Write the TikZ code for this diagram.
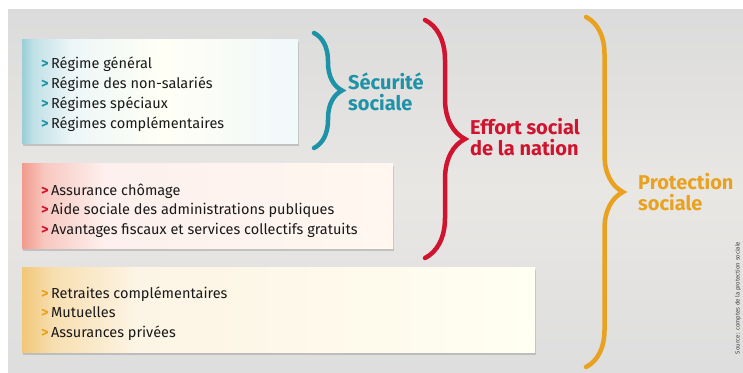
\documentclass[tikz,border=0pt]{standalone}
\usepackage{fontspec}
\setmainfont{Fira Sans}
\newfontfamily\listfont{Fira Sans}
\usetikzlibrary{positioning,decorations.pathreplacing,shadows}

\definecolor{secu}{HTML}{1E93A8}
\definecolor{effort}{HTML}{D0132E}
\definecolor{protec}{HTML}{E9A21F}
\definecolor{panelgray}{HTML}{E9E7E4}
\definecolor{effortedge}{HTML}{F29A8C}

% left-edge tinted fills of the three boxes
\pgfdeclarehorizontalshading{secufill}{100bp}{color(0bp)=(secu!45); color(25bp)=(secu!45);
  color(27bp)=(secu!28); color(34bp)=(secu!8); color(50bp)=(white!96!yellow); color(73bp)=(secu!6); color(100bp)=(secu!6)}
\pgfdeclarehorizontalshading{effortfill}{100bp}{color(0bp)=(effortedge); color(25bp)=(effortedge);
  color(28bp)=(effortedge!55); color(36bp)=(effortedge!15); color(75bp)=(white!94!orange); color(100bp)=(white!94!orange)}
\pgfdeclarehorizontalshading{protecfill}{100bp}{color(0bp)=(protec!60); color(25bp)=(protec!60);
  color(28bp)=(protec!35); color(36bp)=(protec!12); color(75bp)=(white!95!yellow); color(100bp)=(white!95!yellow)}

\newcommand{\puce}[1]{\textcolor{#1}{\textbf{>}}\,}

\begin{document}
\begin{tikzpicture}[
  x=1pt, y=-1pt,
  listbox/.style={anchor=north west, inner sep=0pt,
    drop shadow={shadow xshift=1pt, shadow yshift=-3pt, opacity=.35}},
  listtext/.style={inner sep=0pt, align=left, text=black!90,
    font=\listfont\fontsize{14.5}{19.9}\selectfont},
  headtext/.style={anchor=west, inner sep=0pt, align=left,
    font=\listfont\bfseries\fontsize{20}{20.5}\selectfont},
  curly/.style={decorate, line width=4.5pt, line cap=round}
]
\useasboundingbox (0,0) rectangle (743,372);
\fill[white] (0,0) rectangle (743,372);
\shade[top color=black!14, bottom color=black!13, middle color=panelgray] (8,9) rectangle (743,372);

% boxes
\node[listbox, shading=secufill, minimum width=276pt, minimum height=104pt] (secubox) at (22,39) {};
\node[listbox, shading=effortfill, minimum width=371pt, minimum height=85pt] (effortbox) at (22,163) {};
\node[listbox, shading=protecfill, minimum width=513pt, minimum height=85pt] (protecbox) at (22,267) {};

\node[listtext, right=19pt of secubox.west, yshift=-3pt] (secuitems)
  {\puce{secu}Régime général\\\puce{secu}Régime des non-salariés\\\puce{secu}Régimes spéciaux\\\puce{secu}Régimes complémentaires};
\node[listtext, right=19pt of effortbox.west, yshift=-5pt] (effortitems)
  {\puce{effort}Assurance chômage\\\puce{effort}Aide sociale des administrations publiques\\\puce{effort}Avantages fiscaux et services collectifs gratuits};
\node[listtext, right=19pt of protecbox.west, yshift=-4pt] (protecitems)
  {\puce{protec}Retraites complémentaires\\\puce{protec}Mutuelles\\\puce{protec}Assurances privées};

% braces
\coordinate (secutop) at (314,33);
\coordinate (secubot) at (314,148);
\coordinate (efforttop) at (425,20);
\coordinate (effortbot) at (425,258);
\coordinate (protectop) at (586,17);
\coordinate (protecbot) at (586,367);
\draw[curly, secu, decoration={brace, amplitude=28pt}] (secutop) -- (secubot);
\draw[curly, effort, decoration={brace, amplitude=40pt}] (efforttop) -- (effortbot);
\draw[curly, protec, decoration={brace, amplitude=37pt}] (protectop) -- (protecbot);

% labels
\node[headtext, text=secu] (secutxt) at (348,92) {Sécurité\\sociale};
\node[headtext, text=effort] (efforttxt) at (470,137) {Effort social\\de la nation};
\node[headtext, text=protec] (protectxt) at (638,192) {Protection\\sociale};

\node[rotate=90, inner sep=0pt, text=black!75, font=\fontsize{6}{6}\selectfont] (source) at (738,298)
  {Source : comptes de la protection sociale};
\end{tikzpicture}
\end{document}
